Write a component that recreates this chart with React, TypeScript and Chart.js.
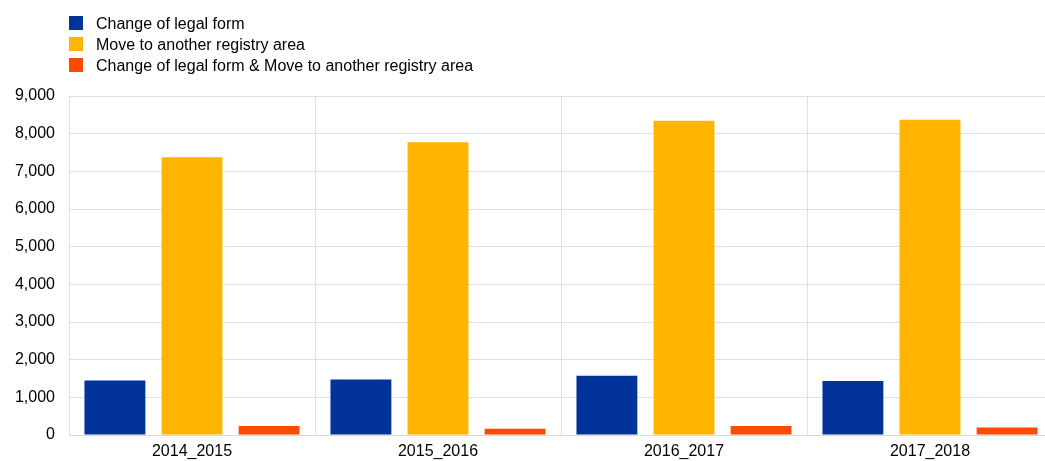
import React, { useEffect, useRef } from "react";
import { Chart, registerables } from "chart.js";

Chart.register(...registerables);

const categories = ["2014_2015", "2015_2016", "2016_2017", "2017_2018"];
const legalForm = [1450, 1475, 1570, 1432];
const moveRegistry = [7375, 7770, 8340, 8370];
const legalFormAndMove = [238, 165, 238, 202];
const seriesLabels = [
  "Change of legal form",
  "Move to another registry area",
  "Change of legal form & Move to another registry area",
];
const seriesColors = ["#003299", "#FFB400", "#FF4B00"];
const yMax = 9000;
const yStep = 1000;

const FONT = "Arial, 'Liberation Sans', sans-serif";

export default function App() {
  const canvasRef = useRef<HTMLCanvasElement | null>(null);

  useEffect(() => {
    const canvas = canvasRef.current;
    if (!canvas) return;
    const values = [legalForm, moveRegistry, legalFormAndMove];
    const chart = new Chart(canvas, {
      type: "bar",
      data: {
        labels: categories,
        datasets: seriesLabels.map((label, i) => ({
          label,
          data: values[i],
          backgroundColor: seriesColors[i],
          borderWidth: 0,
          categoryPercentage: 0.94,
          barPercentage: 0.79,
        })),
      },
      options: {
        responsive: false,
        devicePixelRatio: 1,
        animation: false,
        layout: { padding: { left: 15, top: 96, right: 7, bottom: 0 } },
        plugins: {
          legend: { display: false },
          tooltip: { enabled: false },
        },
        scales: {
          x: {
            grid: { offset: true, color: "#e0e0e0", drawTicks: false, lineWidth: 1 },
            border: { color: "#d9d9d9" },
            ticks: { padding: 7, color: "#000", font: { family: FONT, size: 16 } },
            afterFit: (scale: any) => {
              scale.height = 45;
            },
          },
          y: {
            min: 0,
            max: yMax,
            grid: { color: "#e0e0e0", drawTicks: false },
            border: { color: "#e0e0e0" },
            ticks: {
              stepSize: yStep,
              padding: 14,
              color: "#000",
              font: { family: FONT, size: 16 },
              callback: (v: any) => Number(v).toLocaleString("en-US"),
            },
            afterFit: (scale: any) => {
              scale.width = 54;
            },
          },
        },
      },
    });
    return () => chart.destroy();
  }, []);

  return (
    <div
      style={{
        position: "fixed",
        left: 0,
        top: 0,
        width: 1045,
        height: 461,
        overflow: "hidden",
        background: "#fff",
      }}
    >
      <canvas
        ref={canvasRef}
        width={1060}
        height={480}
        style={{ position: "absolute", left: 0, top: 0, width: 1060, height: 480 }}
      />
      {seriesLabels.map((label, i) => (
        <div key={label}>
          <div
            style={{
              position: "absolute",
              left: 69,
              top: 16 + 21 * i,
              width: 14,
              height: 14,
              background: seriesColors[i],
            }}
          />
          <div
            style={{
              position: "absolute",
              left: 96,
              top: 17 + 21 * i,
              height: 14,
              lineHeight: "14px",
              fontFamily: FONT,
              fontSize: 16,
              color: "#000",
              whiteSpace: "nowrap",
            }}
          >
            {label}
          </div>
        </div>
      ))}
    </div>
  );
}
